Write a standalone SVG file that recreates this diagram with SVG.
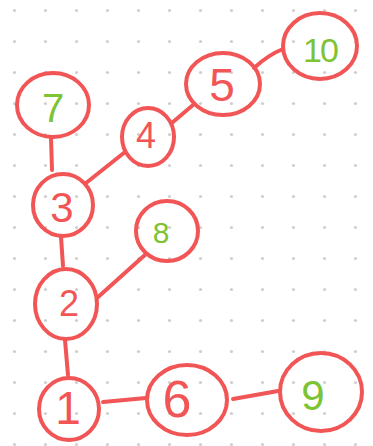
<svg xmlns="http://www.w3.org/2000/svg" width="373" height="446" viewBox="0 0 373 446">
<defs>
<pattern id="dots" x="0" y="0" width="31" height="31" patternUnits="userSpaceOnUse">
<circle cx="14.5" cy="10.5" r="1.6" fill="#cfcfcf"/>
</pattern>
<style>
.n{fill:none;stroke:#f25555;stroke-width:4;}
.e{fill:none;stroke:#f25555;stroke-width:4;stroke-linecap:round;}
.t{font-family:"Liberation Sans",Arial,sans-serif;text-anchor:middle;}
.r{fill:#f25555;}
.g{fill:#7cc433;}
</style>
</defs>
<rect width="373" height="446" fill="#ffffff"/>
<rect width="373" height="446" fill="url(#dots)"/>
<g id="connectors">
<path class="e" d="M51,138 L52,170"/>
<path class="e" d="M86,183 L125,152"/>
<path class="e" d="M173,122 L193,105"/>
<path class="e" d="M254,68 Q268,55 283,49"/>
<path class="e" d="M61,237 L63,266"/>
<path class="e" d="M97,298 L146,254"/>
<path class="e" d="M65,340 L68,375"/>
<path class="e" d="M103,402 L146,398"/>
<path class="e" d="M233,399 L278,391"/>
</g>
<g id="node7"><ellipse class="n" cx="53" cy="105" rx="36" ry="32"/><text class="t g" x="53" y="122" font-size="40">7</text></g>
<g id="node4"><ellipse class="n" cx="148" cy="137" rx="26" ry="29"/><text class="t r" x="146" y="148" font-size="36">4</text></g>
<g id="node5"><ellipse class="n" cx="223" cy="84" rx="37" ry="31"/><text class="t r" x="222" y="101" font-size="46">5</text></g>
<g id="node10"><ellipse class="n" cx="320" cy="46" rx="37" ry="33"/><text class="t g" x="320" y="62" font-size="34" letter-spacing="-2">10</text></g>
<g id="node3"><ellipse class="n" cx="63" cy="205" rx="30" ry="31"/><text class="t r" x="62" y="222" font-size="42">3</text></g>
<g id="node8"><ellipse class="n" cx="167" cy="231" rx="31" ry="30"/><text class="t g" x="161" y="243" font-size="30">8</text></g>
<g id="node2"><ellipse class="n" cx="66" cy="304" rx="31" ry="35"/><text class="t r" x="69" y="316" font-size="36">2</text></g>
<g id="node1"><ellipse class="n" cx="69" cy="409" rx="30" ry="31"/><text class="t r" x="68" y="424" font-size="46">1</text></g>
<g id="node6"><ellipse class="n" cx="187" cy="400" rx="40" ry="35"/><text class="t r" x="177" y="417" font-size="52">6</text></g>
<g id="node9"><ellipse class="n" cx="321" cy="392" rx="41" ry="39"/><text class="t g" x="313" y="410" font-size="42">9</text></g>
</svg>
